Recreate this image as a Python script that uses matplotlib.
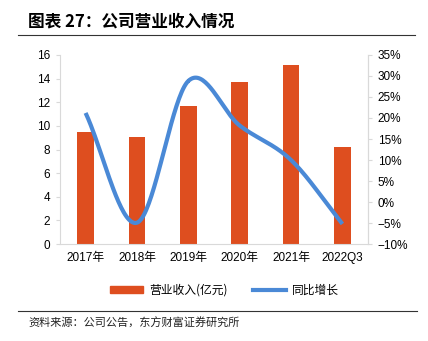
import numpy as np
import matplotlib
matplotlib.use('Agg')
import matplotlib.pyplot as plt
from matplotlib.ticker import FuncFormatter
from matplotlib.lines import Line2D
from matplotlib.patches import Patch

plt.rcParams['font.family'] = ['Liberation Sans', 'Noto Sans CJK SC', 'DejaVu Sans']
plt.rcParams['axes.unicode_minus'] = True

years = ['2017年', '2018年', '2019年', '2020年', '2021年', '2022Q3']
revenue = [9.5, 9.05, 11.7, 13.75, 15.15, 8.25]
growth = [21.2, -4.9, 28.8, 18.2, 10.0, -5.2]

bar_c = '#DE4E1F'
line_c = '#4A89D6'
grid_c = '#D9D9D9'
cjk = ['Noto Sans CJK SC', 'DejaVu Sans']


def smooth(x, y, n=40):
    # excel style smoothed line (catmull-rom through the points)
    x = np.asarray(x, float)
    y = np.asarray(y, float)
    px = np.concatenate([[2 * x[0] - x[1]], x, [2 * x[-1] - x[-2]]])
    py = np.concatenate([[2 * y[0] - y[1]], y, [2 * y[-1] - y[-2]]])
    xs, ys = [], []
    for i in range(1, len(px) - 2):
        t = np.linspace(0, 1, n)
        for p, out in ((px, xs), (py, ys)):
            p0, p1, p2, p3 = p[i - 1], p[i], p[i + 1], p[i + 2]
            out.extend(0.5 * ((2 * p1) + (-p0 + p2) * t +
                              (2 * p0 - 5 * p1 + 4 * p2 - p3) * t ** 2 +
                              (-p0 + 3 * p1 - 3 * p2 + p3) * t ** 3))
    return np.array(xs), np.array(ys)


fig = plt.figure(figsize=(4.28, 3.41), dpi=100)
ax = fig.add_axes([0.140, 0.284, 0.720, 0.555])
x = np.arange(len(years))
ax.bar(x, revenue, width=0.32, color=bar_c, zorder=2)
ax.set_xlim(-0.5, 5.5)
ax.set_ylim(0, 16)
ax.set_yticks(range(0, 17, 2))
ax.set_xticks(x)
ax.set_xticklabels(years, fontsize=8.5)
ax.tick_params(axis='x', length=0, pad=6)
ax.tick_params(axis='y', labelsize=8.5, length=3, color=grid_c, pad=4)
ax.spines['top'].set_visible(False)
for s in ['left', 'bottom', 'right']:
    ax.spines[s].set_color(grid_c)

ax2 = ax.twinx()
sx, sy = smooth(x, growth)
ax2.plot(sx, sy, color=line_c, lw=3.0, solid_capstyle='butt', zorder=3)
ax2.set_ylim(-10, 35)
ax2.set_yticks(range(-10, 36, 5))
ax2.yaxis.set_major_formatter(FuncFormatter(lambda v, p: f'{v:.0f}%'.replace('-', '\u2212')))
ax2.tick_params(axis='y', labelsize=8.5, length=3, color=grid_c, pad=4)
for s in ['top', 'left', 'bottom']:
    ax2.spines[s].set_visible(False)
ax2.spines['right'].set_color(grid_c)

handles = [Patch(color=bar_c), Line2D([0], [0], color=line_c, lw=3.0)]
fig.legend(handles, ['营业收入(亿元)', '同比增长'], loc='center',
           bbox_to_anchor=(0.525, 1 - 290 / 341), ncol=2, frameon=False,
           prop={'family': cjk, 'size': 8.5}, handlelength=2.8, handleheight=0.6,
           handletextpad=0.5, columnspacing=2.2)

fig.text(28 / 428, 1 - 22 / 341, '图表 27：公司营业收入情况', fontsize=12,
         fontweight='bold', va='center', ha='left', family=cjk)
fig.add_artist(Line2D([18 / 428, 415 / 428], [1 - 35 / 341] * 2, color='#333333', lw=0.8))
fig.add_artist(Line2D([18 / 428, 417 / 428], [1 - 311 / 341] * 2, color='#333333', lw=0.8))
fig.text(28 / 428, 1 - 323 / 341, '资料来源：公司公告，东方财富证券研究所', fontsize=8,
         va='center', ha='left', color='#222222', family=cjk)

fig.savefig('out.png', dpi=100)
